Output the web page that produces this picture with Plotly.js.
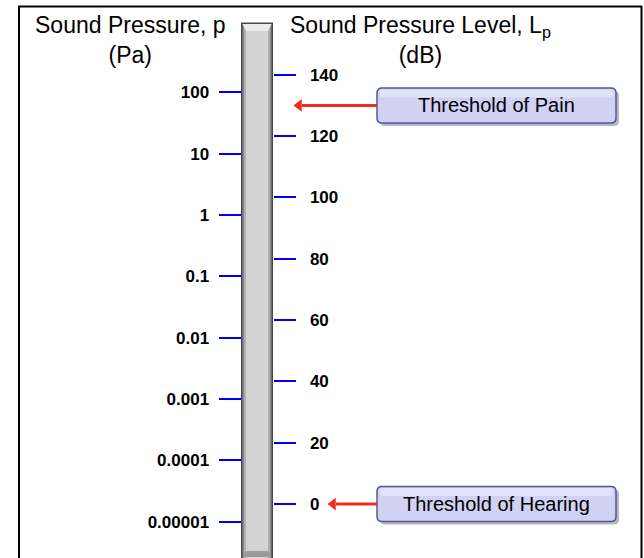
<!DOCTYPE html>
<html>
<head>
<meta charset="utf-8">
<script src="https://cdn.plot.ly/plotly-3.0.1.min.js"></script>
<style>html,body{margin:0;padding:0;background:#fff;}#chart{width:644px;height:558px;}</style>
</head>
<body>
<div id="chart"></div>
<script>
// ---- data ----
const paTickVals = [0.00001, 0.0001, 0.001, 0.01, 0.1, 1, 10, 100];
const paTickText = ['0.00001', '0.0001', '0.001', '0.01', '0.1', '1', '10', '100'];
const dbTickVals = [0, 20, 40, 60, 80, 100, 120, 140];
const dbTickText = ['0', '20', '40', '60', '80', '100', '120', '140'];
const thresholdLabels = ['Threshold of Pain', 'Threshold of Hearing'];
const thresholdDb = [130, 0];
const leftTitle = 'Sound Pressure, p<br>(Pa)';
const rightTitle = 'Sound Pressure Level, L<sub>p</sub><br>(dB)';

// ---- layout helpers ----
const W = 644, H = 558;
const px = x => x / W;
const py = y => 1 - y / H;
const FONT = 'Liberation Sans, Arial, sans-serif';
const RED = '#ec3020';

function rect(x0, y0, x1, y1, fill) {
  return {type: 'rect', xref: 'paper', yref: 'paper', x0: px(x0), x1: px(x1), y0: py(y1), y1: py(y0),
          fillcolor: fill, line: {width: 0}, layer: 'above'};
}
function poly(pts, fill) {
  const d = pts.map((p, i) => (i ? 'L' : 'M') + px(p[0]) + ',' + py(p[1])).join(' ') + ' Z';
  return {type: 'path', xref: 'paper', yref: 'paper', path: d, fillcolor: fill, line: {width: 0}, layer: 'above'};
}
function roundBox(cx, yval, w, h, r, dx, dy, fill, line) {
  const x0 = -w / 2 + dx, x1 = w / 2 + dx, y0 = -h / 2 - dy, y1 = h / 2 - dy;
  const d = `M${x0 + r},${y0} L${x1 - r},${y0} Q${x1},${y0} ${x1},${y0 + r} L${x1},${y1 - r} Q${x1},${y1} ${x1 - r},${y1} ` +
            `L${x0 + r},${y1} Q${x0},${y1} ${x0},${y1 - r} L${x0},${y0 + r} Q${x0},${y0} ${x0 + r},${y0} Z`;
  return {type: 'path', xref: 'paper', yref: 'y2', xsizemode: 'pixel', ysizemode: 'pixel',
          xanchor: px(cx), yanchor: yval, path: d, fillcolor: fill,
          line: line ? {color: line, width: 1.5} : {width: 0}, layer: 'below'};
}

const shapes = [];
// frame
shapes.push({type: 'line', xref: 'paper', yref: 'paper', x0: px(19), x1: px(19), y0: py(6), y1: py(560), line: {color: '#000', width: 2}});
shapes.push({type: 'line', xref: 'paper', yref: 'paper', x0: px(18), x1: px(642), y0: py(6.5), y1: py(6.5), line: {color: '#000', width: 2}});
shapes.push({type: 'line', xref: 'paper', yref: 'paper', x0: px(641.5), x1: px(641.5), y0: py(6), y1: py(560), line: {color: '#000', width: 2}});
// tube
shapes.push(rect(241, 22.5, 273, 558, '#4a4a4a'));
shapes.push(rect(242.5, 24, 271.5, 558, '#8a8a8a'));
shapes.push(rect(244, 24, 270, 558, '#b0b0b0'));
shapes.push(rect(246, 24, 268, 558, '#d3d3d3'));
shapes.push(poly([[242.5, 24], [271.5, 24], [268, 31], [246, 31]], '#ededed'));
shapes.push(poly([[242.5, 557], [271.5, 557], [268, 551], [246, 551]], '#9a9a9a'));

// threshold boxes
const annotations = [];
const traces = [
  {x: [0.5], y: [1], yaxis: 'y', mode: 'none', showlegend: false, hoverinfo: 'skip'},
  {x: [0.5], y: [60], yaxis: 'y2', mode: 'none', showlegend: false, hoverinfo: 'skip'}
];
const boxCx = 496.5;
const boxLeft = 377;
const tipX = [294, 328];
thresholdLabels.forEach((lab, i) => {
  shapes.push(roundBox(boxCx, thresholdDb[i], 239, 35, 5, 3, 3, 'rgba(0,0,0,0.28)', null));
  shapes.push(roundBox(boxCx, thresholdDb[i], 239, 35, 5, 0, 0, '#d1d1f3', '#56569a'));
  shapes.push(roundBox(boxCx, thresholdDb[i], 233, 8, 3, 0, -12, 'rgba(255,255,255,0.35)', null));
  annotations.push({xref: 'paper', yref: 'y2', x: px(boxCx), y: thresholdDb[i], text: lab, showarrow: false,
                    xanchor: 'center', yanchor: 'middle', font: {family: FONT, size: 20, color: '#000'}});
  // arrow shaft
  traces.push({x: [px(boxLeft), px(tipX[i] + 8)], y: [thresholdDb[i], thresholdDb[i]], yaxis: 'y2',
               mode: 'lines', line: {color: RED, width: 3}, showlegend: false, hoverinfo: 'skip'});
  // arrow head
  traces.push({x: [px(tipX[i] + 5)], y: [thresholdDb[i]], yaxis: 'y2', mode: 'markers',
               marker: {symbol: 'triangle-left', size: 11, color: RED, line: {width: 0}},
               showlegend: false, hoverinfo: 'skip'});
});
// titles
annotations.push({xref: 'paper', yref: 'paper', x: px(130), y: py(9.5), xanchor: 'center', yanchor: 'top',
                  text: leftTitle, showarrow: false, align: 'center', font: {family: FONT, size: 23, color: '#000'}});
annotations.push({xref: 'paper', yref: 'paper', x: px(420), y: py(9.5), xanchor: 'center', yanchor: 'top',
                  text: rightTitle, showarrow: false, align: 'center', font: {family: FONT, size: 23, color: '#000'}});

const tickCommon = {ticks: 'outside', tickwidth: 2, tickcolor: '#0000f0', showgrid: false, zeroline: false,
                    showline: false, fixedrange: true,
                    tickfont: {family: FONT, size: 17, color: '#000', weight: 'bold'}};

const layout = {
  width: W, height: H,
  margin: {l: 0, r: 0, t: 0, b: 0},
  paper_bgcolor: '#fff', plot_bgcolor: 'rgba(0,0,0,0)',
  showlegend: false,
  xaxis: {visible: false, range: [0, 1], domain: [0, 1], fixedrange: true},
  yaxis: Object.assign({}, tickCommon, {type: 'log', range: [-5.592, 3.505], anchor: 'free', position: px(241.5),
          side: 'left', tickvals: paTickVals, ticktext: paTickText, ticklen: 23, ticklabelstandoff: 6}),
  yaxis2: Object.assign({}, tickCommon, {range: [-17.58, 164.36], overlaying: 'y', anchor: 'free', position: px(272.5),
          side: 'right', tickvals: dbTickVals, ticktext: dbTickText, ticklen: 22, ticklabelstandoff: 11}),
  shapes: shapes,
  annotations: annotations
};

Plotly.newPlot('chart', traces, layout, {staticPlot: true, displayModeBar: false});
</script>
</body>
</html>
